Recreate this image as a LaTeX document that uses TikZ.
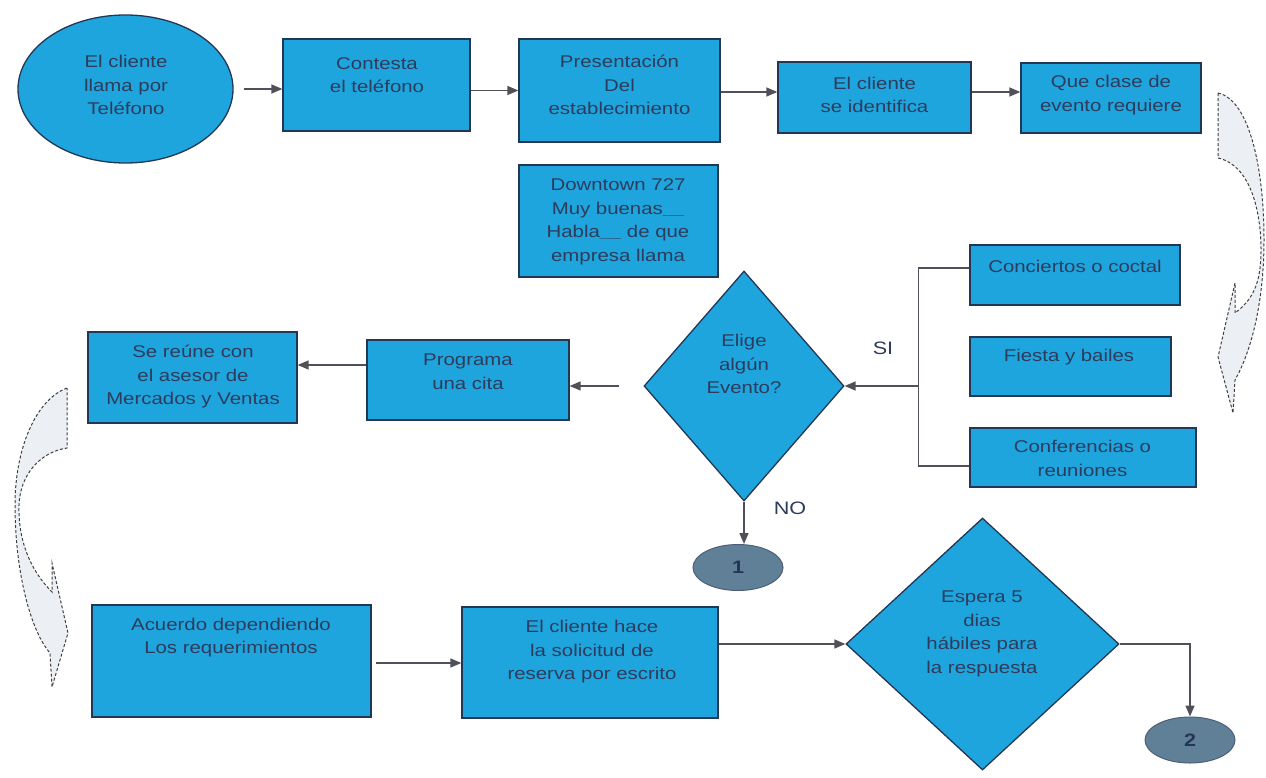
\documentclass[tikz,border=0pt]{standalone}
\usepackage{fontspec}
\setmainfont{Liberation Sans}[FakeStretch=1.2]
\usetikzlibrary{arrows.meta,shapes.geometric}
\definecolor{boxblue}{RGB}{30,165,222}
\definecolor{boxline}{RGB}{35,55,85}
\definecolor{txtc}{RGB}{45,60,92}
\definecolor{conn}{RGB}{80,80,88}
\definecolor{connfill}{RGB}{95,128,150}
\definecolor{curvefill}{RGB}{236,239,243}
\begin{document}
\begin{tikzpicture}[x=1pt,y=-1pt,
  stepbox/.style={draw=boxline, line width=1.3pt, fill=boxblue, inner sep=0pt, rectangle},
  decbox/.style={diamond, draw=boxline, line width=1.3pt, fill=boxblue, inner sep=0pt},
  ovalbox/.style={ellipse, draw=boxline, line width=1.3pt, fill=boxblue, inner sep=0pt},
  connector/.style={ellipse, draw=boxline!80, line width=1pt, fill=connfill, inner sep=0pt,
     minimum width=90pt, minimum height=46pt, text=boxline, font=\fontsize{18}{20}\selectfont\bfseries},
  txt/.style={text=txtc, align=center, font=\fontsize{17}{23.5}\selectfont, inner sep=0pt},
  lbl/.style={text=txtc, font=\fontsize{18}{20}\selectfont, inner sep=0pt},
  arr/.style={draw=conn, line width=1.4pt, -{Triangle[length=11pt,width=9pt]}},
  ln/.style={draw=conn, line width=1.4pt},
  curvy/.style={draw=black!75, line width=1pt, densely dashed, fill=curvefill}]
\useasboundingbox (0,0) rectangle (1266,777);
\fill[white] (0,0) rectangle (1266,777);

% curved arrows
\path[curvy] (1218,93) .. controls (1250,100) and (1264,170) .. (1264,240)
  .. controls (1264,300) and (1252,350) .. (1235,380) -- (1233,413) -- (1218,357)
  -- (1235,283) -- (1235,313) .. controls (1252,300) and (1261,285) .. (1261,250)
  .. controls (1261,210) and (1250,165) .. (1218,158) -- cycle;
\path[curvy] (67,388) .. controls (35,400) and (15,450) .. (15,505)
  .. controls (15,570) and (30,630) .. (50,653) -- (52,687) -- (68,633)
  -- (52,563) -- (52,592) .. controls (30,570) and (18,540) .. (19,505)
  .. controls (20,475) and (40,452) .. (67,448) -- cycle;

% nodes
\node[ovalbox, minimum width=215pt, minimum height=148pt] (cliente) at (125.5,89) {};
\node[txt] (tcliente) at (126,85) {El cliente\\llama por\\Teléfono};

\node[stepbox, minimum width=187pt, minimum height=92pt] (contesta) at (376.5,85) {};
\node[txt] (tcontesta) at (377,75) {Contesta\\el teléfono};

\node[stepbox, minimum width=201pt, minimum height=103pt] (present) at (619.5,90.5) {};
\node[txt] (tpresent) at (619.5,85) {Presentación\\Del\\establecimiento};

\node[stepbox, minimum width=193pt, minimum height=71pt] (identif) at (874.5,97.5) {};
\node[txt] (tidentif) at (874.5,95) {El cliente\\se identifica};

\node[stepbox, minimum width=180pt, minimum height=70pt] (queclase) at (1111,98) {};
\node[txt] (tqueclase) at (1111,95) {Que clase de\\evento requiere};

\node[stepbox, minimum width=199pt, minimum height=112pt] (downtown) at (618.5,221) {};
\node[txt] (tdowntown) at (618,222) {Downtown 727\\Muy buenas{\fontsize{8}{8}\selectfont\_\_\_\_}\\Habla{\fontsize{8}{8}\selectfont\_\_\_\_} de que\\empresa llama};

\node[stepbox, minimum width=210pt, minimum height=60pt] (conciertos) at (1075,275) {};
\node[txt] (tconciertos) at (1075,266) {Conciertos o coctal};

\node[stepbox, minimum width=201pt, minimum height=59pt] (fiesta) at (1070.5,366.5) {};
\node[txt] (tfiesta) at (1069,357) {Fiesta y bailes};

\node[stepbox, minimum width=226pt, minimum height=59pt] (conferencias) at (1083,457.5) {};
\node[txt] (tconferencias) at (1082.5,458.5) {Conferencias o\\reuniones};

\node[decbox, minimum width=200pt, minimum height=230pt] (elige) at (744,386) {};
\node[txt] (telige) at (744,364) {Elige\\algún\\Evento?};

\node[stepbox, minimum width=202pt, minimum height=80pt] (programa) at (468,380) {};
\node[txt] (tprograma) at (468,371.5) {Programa\\una cita};

\node[stepbox, minimum width=209pt, minimum height=91pt] (sereune) at (192.5,377.5) {};
\node[txt] (tsereune) at (193,376.5) {Se reúne con\\ el asesor de\\Mercados y Ventas};

\node[stepbox, minimum width=279pt, minimum height=112pt] (acuerdo) at (231.5,661) {};
\node[txt] (tacuerdo) at (231,637.5) {Acuerdo dependiendo\\Los requerimientos};

\node[stepbox, minimum width=256pt, minimum height=111pt] (hace) at (590,662.5) {};
\node[txt] (thace) at (592,652) {El cliente hace\\la solicitud de\\reserva por escrito};

\node[decbox, minimum width=273pt, minimum height=252pt] (espera) at (982.5,644) {};
\node[txt] (tespera) at (982,634) {Espera 5\\dias\\hábiles para\\la respuesta};

\node[connector] (c1) at (738,567.5) {1};
\node[connector] (c2) at (1190,740) {2};

\node[lbl] (si) at (883,348) {SI};
\node[lbl] (no) at (790,508) {NO};

% connectors
\draw[arr] ([xshift=10pt]cliente.east) -- (contesta.west |- cliente.east);
\draw[arr] (contesta.east |- present.west) -- (present.west);
\draw[arr] ([yshift=-1.5pt]present.east) -- ([yshift=5.5pt]identif.west);
\draw[arr] ([yshift=5.5pt]identif.east) -- ([yshift=6pt]queclase.west);

\coordinate (brtop) at ([xshift=-51pt,yshift=7pt]conciertos.west);
\coordinate (brbot) at ([xshift=-51pt,yshift=-8.5pt]conferencias.west);
\draw[ln] ([yshift=7pt]conciertos.west) -- (brtop) -- (brbot) -- ([yshift=-8.5pt]conferencias.west);
\draw[arr] (brtop |- elige.east) -- (elige.east);

\draw[arr] ([xshift=-24pt]elige.west) -- (programa.east |- elige.west);
\draw[arr] ([yshift=15pt]programa.west) -- ([yshift=12.5pt]sereune.east);
\draw[arr] (elige.south) -- (elige.south |- c1.north);

\draw[arr] ([xshift=4pt,yshift=-2pt]acuerdo.east) -- ([yshift=-0.5pt]hace.west);
\draw[arr] (hace.east |- espera.west) -- (espera.west);
\draw[arr] (espera.east) -| (c2.north);
\end{tikzpicture}
\end{document}
